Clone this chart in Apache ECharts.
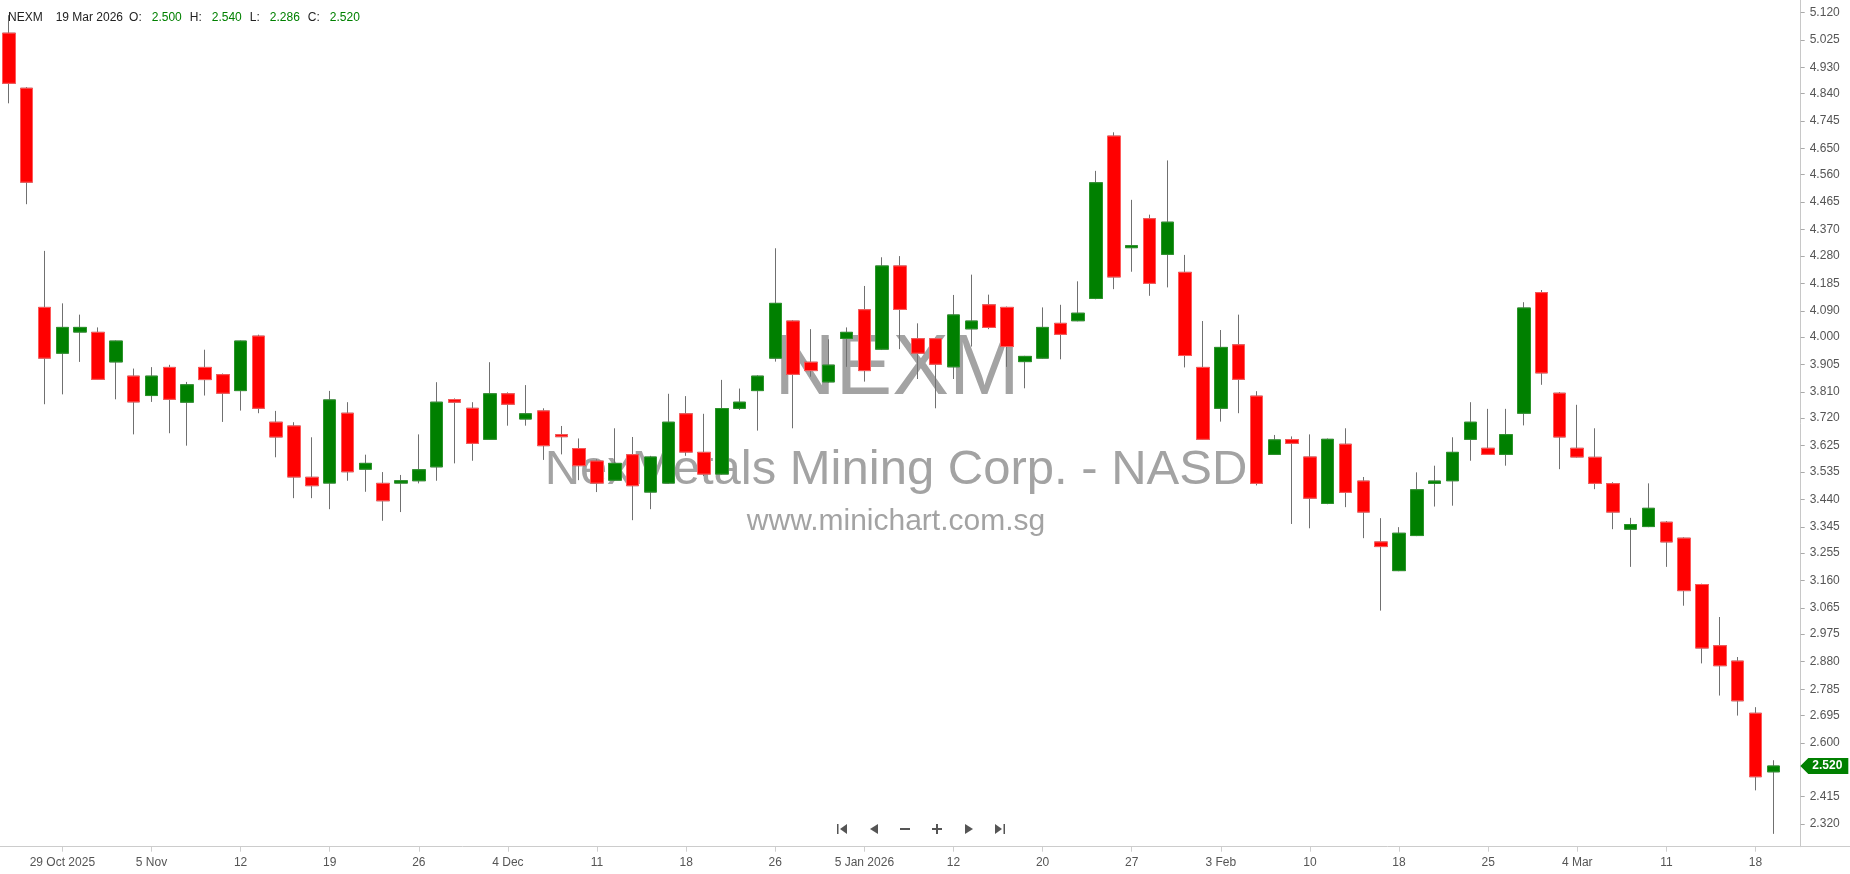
<!DOCTYPE html>
<html>
<head>
<meta charset="utf-8">
<style>
html,body{margin:0;padding:0;background:#fff;}
#chart{width:1850px;height:874px;}
</style>
<script src="https://cdn.jsdelivr.net/npm/echarts/dist/echarts.min.js"></script>
</head>
<body>
<div id="chart"></div>
<script>
// ---- data ----
const symbol = 'NEXM';
const companyName = 'NexMetals Mining Corp. - NASD';
const siteName = 'www.minichart.com.sg';

const categories = [
 '2025-10-24','2025-10-27','2025-10-28','2025-10-29','2025-10-30','2025-10-31',
 '2025-11-03','2025-11-04','2025-11-05','2025-11-06','2025-11-07',
 '2025-11-10','2025-11-11','2025-11-12','2025-11-13','2025-11-14',
 '2025-11-17','2025-11-18','2025-11-19','2025-11-20','2025-11-21',
 '2025-11-24','2025-11-25','2025-11-26','2025-11-28',
 '2025-12-01','2025-12-02','2025-12-03','2025-12-04','2025-12-05',
 '2025-12-08','2025-12-09','2025-12-10','2025-12-11','2025-12-12',
 '2025-12-15','2025-12-16','2025-12-17','2025-12-18','2025-12-19',
 '2025-12-22','2025-12-23','2025-12-24','2025-12-26',
 '2025-12-29','2025-12-30','2025-12-31',
 '2026-01-02','2026-01-05','2026-01-06','2026-01-07','2026-01-08','2026-01-09',
 '2026-01-12','2026-01-13','2026-01-14','2026-01-15','2026-01-16',
 '2026-01-20','2026-01-21','2026-01-22','2026-01-23',
 '2026-01-26','2026-01-27','2026-01-28','2026-01-29','2026-01-30',
 '2026-02-02','2026-02-03','2026-02-04','2026-02-05','2026-02-06',
 '2026-02-09','2026-02-10','2026-02-11','2026-02-12','2026-02-13',
 '2026-02-17','2026-02-18','2026-02-19','2026-02-20',
 '2026-02-23','2026-02-24','2026-02-25','2026-02-26','2026-02-27',
 '2026-03-02','2026-03-03','2026-03-04','2026-03-05','2026-03-06',
 '2026-03-09','2026-03-10','2026-03-11','2026-03-12','2026-03-13',
 '2026-03-16','2026-03-17','2026-03-18','2026-03-19'
];

const open = [
 5.048,4.858,4.102,3.944,4.017,4.016,3.914,3.865,3.798,3.895,
 3.775,3.895,3.870,3.815,4.003,3.706,3.693,3.516,3.496,3.737,
 3.544,3.495,3.496,3.504,3.552,3.784,3.754,3.647,3.804,3.717,
 3.745,3.663,3.615,3.572,3.506,3.594,3.465,3.496,3.735,3.602,
 3.527,3.754,3.815,3.927,4.055,3.913,3.845,3.995,4.094,3.958,
 4.245,3.994,3.994,3.897,4.028,4.111,4.102,3.915,3.927,4.047,
 4.056,4.133,4.693,4.308,4.408,4.285,4.223,3.895,3.754,3.973,
 3.796,3.595,3.646,3.586,3.426,3.630,3.503,3.293,3.194,3.315,
 3.495,3.504,3.647,3.616,3.595,3.737,4.153,3.806,3.616,3.585,
 3.494,3.337,3.346,3.361,3.306,3.146,2.935,2.882,2.702,2.500
];
const high = [
 5.110,4.862,4.297,4.116,4.077,4.033,3.988,3.891,3.896,3.904,
 3.845,3.956,3.874,3.988,4.008,3.745,3.706,3.654,3.814,3.775,
 3.594,3.534,3.524,3.664,3.844,3.788,3.775,3.913,3.809,3.834,
 3.754,3.693,3.650,3.578,3.685,3.655,3.590,3.804,3.796,3.735,
 3.852,3.822,3.868,4.306,4.058,4.027,3.992,4.033,4.176,4.275,
 4.279,4.047,3.997,4.145,4.215,4.146,4.105,3.935,4.102,4.111,
 4.192,4.573,4.706,4.473,4.422,4.609,4.283,4.055,4.024,4.077,
 3.813,3.662,3.657,3.664,3.650,3.685,3.517,3.375,3.344,3.533,
 3.556,3.654,3.775,3.752,3.752,4.120,4.162,3.810,3.766,3.685,
 3.499,3.376,3.495,3.365,3.309,3.149,3.034,2.896,2.723,2.540
];
const low = [
 4.806,4.458,3.768,3.802,3.914,3.852,3.785,3.664,3.776,3.668,
 3.625,3.798,3.707,3.746,3.737,3.585,3.444,3.444,3.406,3.504,
 3.466,3.366,3.396,3.495,3.504,3.564,3.573,3.645,3.694,3.694,
 3.576,3.595,3.506,3.465,3.503,3.368,3.406,3.494,3.590,3.520,
 3.525,3.748,3.677,3.915,3.685,3.863,3.842,3.897,3.846,3.955,
 3.958,3.855,3.754,3.855,3.967,4.027,3.897,3.823,3.925,3.923,
 4.054,4.130,4.165,4.225,4.142,4.171,3.895,3.645,3.708,3.737,
 3.488,3.593,3.355,3.340,3.423,3.413,3.306,3.056,3.192,3.313,
 3.415,3.418,3.573,3.593,3.556,3.695,3.835,3.544,3.584,3.475,
 3.337,3.207,3.344,3.207,3.073,2.874,2.763,2.694,2.436,2.286
];
const close = [
 4.875,4.534,3.927,4.033,4.033,3.854,3.986,3.776,3.865,3.785,
 3.835,3.853,3.806,3.986,3.754,3.655,3.517,3.487,3.783,3.535,
 3.564,3.435,3.504,3.542,3.775,3.775,3.633,3.804,3.768,3.735,
 3.625,3.656,3.556,3.496,3.564,3.487,3.586,3.706,3.603,3.527,
 3.753,3.775,3.865,4.116,3.871,3.884,3.903,4.016,3.884,4.245,
 4.095,3.944,3.906,4.076,4.055,4.033,3.967,3.933,4.033,4.009,
 4.082,4.532,4.207,4.315,4.185,4.396,3.936,3.647,3.964,3.854,
 3.495,3.645,3.633,3.444,3.647,3.464,3.396,3.277,3.323,3.473,
 3.503,3.602,3.706,3.595,3.663,4.100,3.876,3.655,3.586,3.495,
 3.396,3.353,3.409,3.293,3.125,2.927,2.866,2.745,2.483,2.520
];

const xTickDates  = ['2025-10-29','2025-11-05','2025-11-12','2025-11-19','2025-11-26','2025-12-04','2025-12-11','2025-12-18','2025-12-26','2026-01-05','2026-01-12','2026-01-20','2026-01-27','2026-02-03','2026-02-10','2026-02-18','2026-02-25','2026-03-04','2026-03-11','2026-03-18'];
const xTickLabels = ['29 Oct 2025','5 Nov','12','19','26','4 Dec','11','18','26','5 Jan 2026','12','20','27','3 Feb','10','18','25','4 Mar','11','18'];

const yTickLabels = ['2.320','2.415','2.600','2.695','2.785','2.880','2.975','3.065','3.160','3.255','3.345','3.440','3.535','3.625','3.720','3.810','3.905','4.000','4.090','4.185','4.280','4.370','4.465','4.560','4.650','4.745','4.840','4.930','5.025','5.120'];
const yMin = 2.2417, yMax = 5.1624;

// ---- build ----
const UP = '#008000', DOWN = '#ff0000', WICK = '#707070';
const wickData = categories.map((d, i) => [open[i], close[i], low[i], high[i]]);
const bodyData = categories.map((d, i) => [open[i], close[i], Math.min(open[i], close[i]), Math.max(open[i], close[i])]);
const last = categories.length - 1;
const MONTHS = ['Jan','Feb','Mar','Apr','May','Jun','Jul','Aug','Sep','Oct','Nov','Dec'];
function fmtDate(s){ const p = s.split('-'); return (+p[2]) + ' ' + MONTHS[+p[1]-1] + ' ' + p[0]; }

const chart = echarts.init(document.getElementById('chart'), null, {renderer:'canvas'});
const FONT = '"Liberation Sans", Arial, sans-serif';

chart.setOption({
  animation: false,
  backgroundColor: '#ffffff',
  grid: { left: -1, right: 67.8, top: 0, bottom: 27.3, containLabel: false },
  xAxis: {
    type: 'category',
    data: categories,
    boundaryGap: true,
    axisLine: { show: false },
    axisTick: {
      show: true, alignWithLabel: true, length: 5,
      interval: (idx, val) => xTickDates.indexOf(val) >= 0,
      lineStyle: { color: '#cfcfcf' }
    },
    axisLabel: {
      interval: (idx, val) => xTickDates.indexOf(val) >= 0,
      formatter: (val) => { const k = xTickDates.indexOf(val); return k >= 0 ? xTickLabels[k] : ''; },
      color: '#555', fontSize: 12, fontFamily: FONT, margin: 10
    },
    splitLine: { show: false }
  },
  yAxis: {
    type: 'value',
    position: 'right',
    offset: 18.5,
    min: yMin, max: yMax,
    scale: true,
    axisLine: { show: true, lineStyle: { color: '#c8c8c8', width: 1 } },
    axisTick: { show: true, length: 4, customValues: yTickLabels.map(Number), lineStyle: { color: '#aaa' } },
    axisLabel: {
      customValues: yTickLabels.map(Number),
      formatter: (v) => { let best = '', bd = 1e9; yTickLabels.forEach(t => { const d = Math.abs(+t - v); if (d < bd) { bd = d; best = t; } }); return best; },
      color: '#555', fontSize: 12, fontFamily: FONT, margin: 9
    },
    splitLine: { show: false }
  },
  series: [
    {
      name: 'wick', type: 'candlestick', data: wickData, barWidth: 13, z: 2,
      itemStyle: { color: WICK, color0: WICK, borderColor: WICK, borderColor0: WICK, borderWidth: 1 },
      silent: true
    },
    {
      name: 'body', type: 'candlestick', data: bodyData, barWidth: 13, z: 3,
      itemStyle: { color: UP, color0: DOWN, borderColor: '#2a952a', borderColor0: '#ff5a5a', borderWidth: 1 },
      silent: true,
      markPoint: {
        symbol: 'path://M0,8 L8,0 L48,0 L48,16 L8,16 Z',
        symbolSize: [48, 16],
        symbolOffset: [51, 0],
        itemStyle: { color: UP },
        label: { show: true, color: '#fff', fontSize: 12, fontWeight: 'bold', fontFamily: FONT, offset: [3, 0],
                 formatter: (p) => (+p.value).toFixed(3) },
        data: [{ coord: [last, close[last]], value: close[last] }]
      }
    }
  ],
  graphic: [
    { type: 'text', z: 0, x: 897, y: 371, style: { text: symbol, font: '85px ' + FONT, fill: '#a3a3a3', align: 'center', verticalAlign: 'middle' } },
    { type: 'text', z: 0, x: 896, y: 470, style: { text: companyName, font: '49px ' + FONT, fill: '#a3a3a3', align: 'center', verticalAlign: 'middle' } },
    { type: 'text', z: 0, x: 896, y: 522, style: { text: siteName, font: '30px ' + FONT, fill: '#a3a3a3', align: 'center', verticalAlign: 'middle' } },
    { type: 'line', z: 5, shape: { x1: 0, y1: 846.5, x2: 1850, y2: 846.5 }, style: { stroke: '#cccccc', lineWidth: 1 } },
    { type: 'text', z: 5, x: 8, y: 18, style: {
        text: '{a|' + symbol + '}{d|' + fmtDate(categories[last]) + '}{a|O:}{v|' + open[last].toFixed(3) + '}{a|H:}{v|' + high[last].toFixed(3) + '}{a|L:}{v|' + low[last].toFixed(3) + '}{a|C:}{v|' + close[last].toFixed(3) + '}',
        font: '12px ' + FONT, verticalAlign: 'middle',
        rich: {
          a: { fill: '#222', font: '12px ' + FONT },
          d: { fill: '#222', font: '12px ' + FONT, padding: [0, 6, 0, 13] },
          v: { fill: UP, font: '12px ' + FONT, padding: [0, 8, 0, 10] }
        }
    } },
    // navigation buttons
    { type: 'polygon', z: 5, shape: { points: [[847,824],[847,834],[840,829]] }, style: { fill: '#555' } },
    { type: 'rect', z: 5, shape: { x: 837, y: 824, width: 1.5, height: 10 }, style: { fill: '#555' } },
    { type: 'polygon', z: 5, shape: { points: [[878,824],[878,834],[870,829]] }, style: { fill: '#555' } },
    { type: 'rect', z: 5, shape: { x: 900, y: 828, width: 10, height: 2 }, style: { fill: '#555' } },
    { type: 'rect', z: 5, shape: { x: 932, y: 828, width: 10, height: 2 }, style: { fill: '#555' } },
    { type: 'rect', z: 5, shape: { x: 936, y: 824, width: 2, height: 10 }, style: { fill: '#555' } },
    { type: 'polygon', z: 5, shape: { points: [[965,824],[965,834],[973,829]] }, style: { fill: '#555' } },
    { type: 'polygon', z: 5, shape: { points: [[995,824],[995,834],[1002,829]] }, style: { fill: '#555' } },
    { type: 'rect', z: 5, shape: { x: 1003.5, y: 824, width: 1.5, height: 10 }, style: { fill: '#555' } }
  ]
});
</script>
</body>
</html>
